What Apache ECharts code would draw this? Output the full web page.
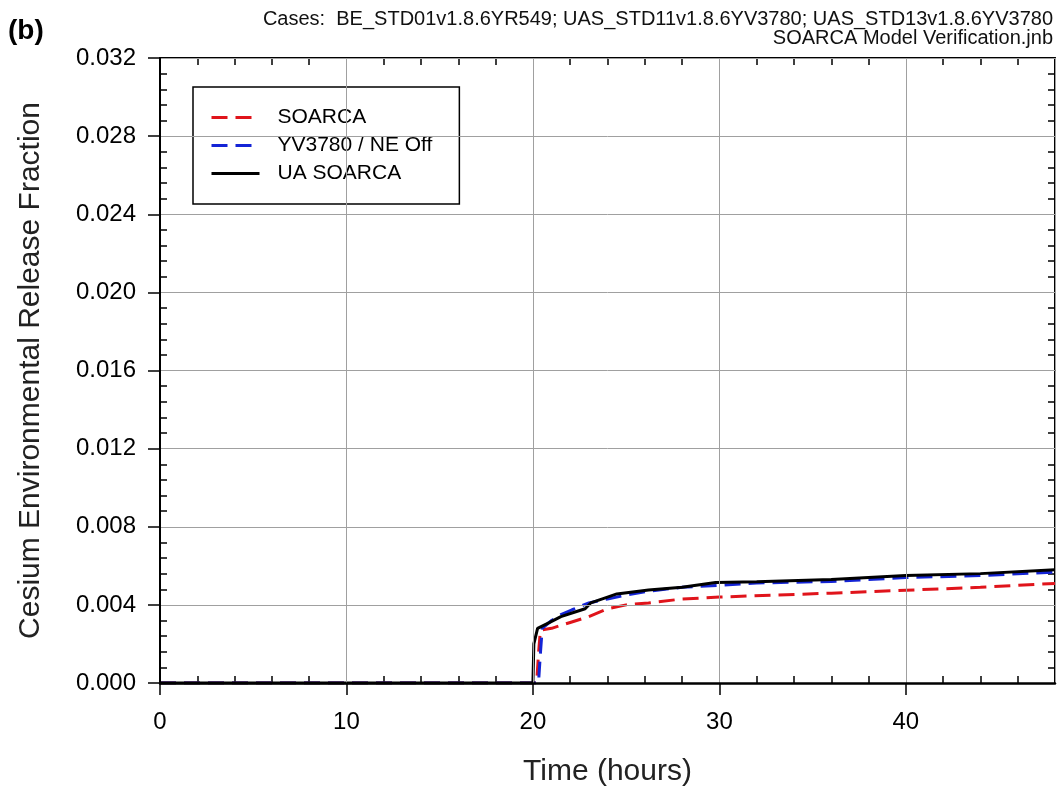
<!DOCTYPE html>
<html>
<head>
    <meta charset="utf-8">
    <script src="https://cdn.jsdelivr.net/npm/echarts@6/dist/echarts.min.js"></script>
    <style>
        body { margin: 0; background: #fff; }
    </style>
</head>
<body>
<div id="main" style="width: 1062px;height:794px;"></div>
<script type="text/javascript">
    // values
    var soarcaTime = [0, 20.2, 20.3, 20.4, 21.0, 22.0, 23.0, 24.0, 25.0, 26.2, 28.0, 30.0, 33.0, 36.0, 40.0, 44.0, 48.0];
    var soarcaVal  = [0, 0, 0.0015, 0.0027, 0.0028, 0.0031, 0.0034, 0.0038, 0.0040, 0.0041, 0.0043, 0.0044, 0.0045, 0.0046, 0.00475, 0.0049, 0.0051];

    var yv3780Time = [0, 20.3, 20.4, 20.5, 21.0, 21.5, 22.1, 23.0, 24.0, 25.0, 26.2, 28.0, 30.0, 32.0, 36.0, 40.0, 44.0, 48.0];
    var yv3780Val  = [0, 0, 0.0015, 0.0028, 0.0032, 0.0035, 0.00375, 0.0041, 0.0043, 0.0045, 0.0047, 0.0049, 0.0050, 0.00512, 0.0052, 0.0054, 0.0055, 0.00568];

    var uaTime = [0, 20.0, 20.05, 20.25, 20.9, 21.5, 22.3, 22.8, 23.1, 24.0, 24.5, 26.2, 28.0, 29.8, 32.0, 36.0, 40.0, 44.0, 48.0];
    var uaVal  = [0, 0, 0.0020, 0.0028, 0.0031, 0.0034, 0.00365, 0.0038, 0.0041, 0.0044, 0.00456, 0.00476, 0.0049, 0.00515, 0.00518, 0.0053, 0.0055, 0.0056, 0.0058];

    var seriesNames = ['SOARCA', 'YV3780 / NE Off', 'UA SOARCA'];

    function pairs(t, v) {
        var out = [];
        for (let i = 0; i < t.length; i++) out.push([t[i], v[i]]);
        return out;
    }

    var font = 'Liberation Sans';
    var myChart = echarts.init(document.getElementById('main'));

    var gridLine = { show: true, lineStyle: { color: '#a0a0a0', width: 1 } };
    var minor = { show: true, splitNumber: 5, length: 7, lineStyle: { color: '#000', width: 1.5 } };

    myChart.setOption({
        animation: false,
        backgroundColor: '#fff',
        graphic: [
            { type: 'text', x: 8, y: 31, style: { text: '(b)', font: 'bold 28px ' + font, fill: '#000', verticalAlign: 'middle' } },
            { type: 'text', x: 1053, y: 19, style: { text: 'Cases:  BE_STD01v1.8.6YR549; UAS_STD11v1.8.6YV3780; UAS_STD13v1.8.6YV3780', font: '20px ' + font, fill: '#111', align: 'right', verticalAlign: 'middle' } },
            { type: 'text', x: 1053, y: 38, style: { text: 'SOARCA Model Verification.jnb', font: '20px ' + font, fill: '#111', align: 'right', verticalAlign: 'middle' } }
        ],
        legend: {
            orient: 'vertical',
            left: 193,
            top: 87,
            data: seriesNames,
            backgroundColor: '#fff',
            borderColor: '#000',
            borderWidth: 1.5,
            borderRadius: 0,
            padding: [20, 27, 20, 17],
            itemWidth: 48,
            itemHeight: 21,
            itemGap: 7,
            itemStyle: { opacity: 0 },
            lineStyle: { width: 3 },
            textStyle: { fontFamily: font, fontSize: 21, color: '#000', padding: [0, 0, 0, 13] }
        },
        grid: { left: 160, right: 7, top: 58, bottom: 111 },
        xAxis: [
            {
                type: 'value', position: 'bottom', min: 0, max: 48, interval: 10,
                name: 'Time (hours)', nameLocation: 'middle', nameGap: 74,
                nameTextStyle: { fontFamily: font, fontSize: 30, color: '#222' },
                axisLine: { show: true, onZero: false, lineStyle: { color: '#000', width: 2.5 } },
                axisTick: { show: true, length: 12, lineStyle: { color: '#000', width: 1.5 } },
                axisLabel: { fontFamily: font, fontSize: 24, color: '#000', margin: 27, showMaxLabel: false },
                splitLine: gridLine,
                z: 5
            },
            {
                type: 'value', position: 'bottom', min: 0, max: 48, interval: 10,
                axisLine: { show: false, onZero: false },
                axisTick: { show: false, inside: true },
                minorTick: minor,
                axisLabel: { show: false },
                splitLine: { show: false }
            },
            {
                type: 'value', position: 'top', min: 0, max: 48, interval: 10,
                axisLine: { show: true, onZero: false, lineStyle: { color: '#000', width: 2 } },
                axisTick: { show: false, inside: true },
                minorTick: minor,
                axisLabel: { show: false },
                splitLine: { show: false }
            }
        ],
        yAxis: [
            {
                type: 'value', position: 'left', min: 0, max: 0.032, interval: 0.004,
                name: 'Cesium Environmental Release Fraction', nameLocation: 'middle', nameGap: 114,
                nameTextStyle: { fontFamily: font, fontSize: 30, color: '#222' },
                axisLine: { show: true, onZero: false, lineStyle: { color: '#000', width: 2 } },
                axisTick: { show: true, length: 12, lineStyle: { color: '#000', width: 1.5 } },
                axisLabel: { fontFamily: font, fontSize: 24, color: '#000', margin: 24,
                    formatter: function (v) { return v.toFixed(3); } },
                splitLine: gridLine,
                z: 5
            },
            {
                type: 'value', position: 'left', min: 0, max: 0.032, interval: 0.004,
                axisLine: { show: false, onZero: false },
                axisTick: { show: false, inside: true },
                minorTick: minor,
                axisLabel: { show: false },
                splitLine: { show: false }
            },
            {
                type: 'value', position: 'right', min: 0, max: 0.032, interval: 0.004,
                axisLine: { show: true, onZero: false, lineStyle: { color: '#000', width: 2 } },
                axisTick: { show: false, inside: true },
                minorTick: minor,
                axisLabel: { show: false },
                splitLine: { show: false }
            }
        ],
        series: [
            {
                name: seriesNames[0], type: 'line', symbol: 'none', xAxisIndex: 0, yAxisIndex: 0,
                data: pairs(soarcaTime, soarcaVal),
                lineStyle: { color: '#e0141b', width: 3, type: [16, 8] },
                itemStyle: { color: '#e0141b' }, z: 2
            },
            {
                name: seriesNames[1], type: 'line', symbol: 'none', xAxisIndex: 0, yAxisIndex: 0,
                data: pairs(yv3780Time, yv3780Val),
                lineStyle: { color: '#1424d6', width: 3, type: [16, 8] },
                itemStyle: { color: '#1424d6' }, z: 3
            },
            {
                name: seriesNames[2], type: 'line', symbol: 'none', xAxisIndex: 0, yAxisIndex: 0,
                data: pairs(uaTime, uaVal),
                lineStyle: { color: '#000', width: 3 },
                itemStyle: { color: '#000' }, z: 4
            }
        ]
    });
</script>
</body>
</html>
